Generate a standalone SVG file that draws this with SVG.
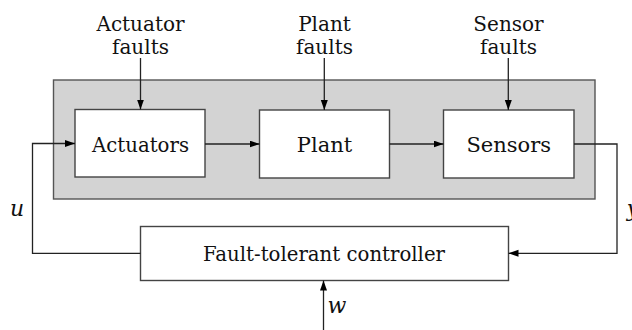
<svg xmlns="http://www.w3.org/2000/svg" width="632" height="330" viewBox="0 0 632 330">
<defs>
<marker id="ah" markerUnits="userSpaceOnUse" markerWidth="11" markerHeight="8" refX="10" refY="3.5" orient="auto">
<path d="M0,0 L10,3.5 L0,7 z" fill="#000"/>
</marker>
<style>
text{font-family:'DejaVu Serif','Liberation Serif',serif;font-size:21px;fill:#111;text-anchor:middle}
.lbl{font-size:20px}
.it{font-style:italic;font-size:22px}
.box{fill:#fff;stroke:#444;stroke-width:1.4}
.grp{fill:#d3d3d3;stroke:#555;stroke-width:1.4}
.arr{fill:none;stroke:#222;stroke-width:1.3;marker-end:url(#ah)}
</style>
</defs>
<rect id="system" class="grp" x="53.5" y="80" width="541.5" height="119"/>
<g id="actuators"><rect class="box" x="75" y="109.5" width="130" height="67.5"/><text x="140.5" y="152" textLength="97" lengthAdjust="spacingAndGlyphs">Actuators</text></g>
<g id="plant"><rect class="box" x="259.5" y="110" width="130" height="68"/><text x="324.5" y="152">Plant</text></g>
<g id="sensors"><rect class="box" x="443.5" y="110" width="130.5" height="68"/><text x="508.7" y="152">Sensors</text></g>
<g id="controller"><rect class="box" x="140.5" y="226.5" width="368" height="54"/><text x="324" y="261" textLength="242" lengthAdjust="spacingAndGlyphs">Fault-tolerant controller</text></g>
<g id="actuator-faults"><text class="lbl" x="140.5" y="30.5">Actuator</text><text class="lbl" x="140.5" y="53.5">faults</text></g>
<g id="plant-faults"><text class="lbl" x="324.5" y="30.5">Plant</text><text class="lbl" x="324.5" y="53.5">faults</text></g>
<g id="sensor-faults"><text class="lbl" x="508.5" y="30.5">Sensor</text><text class="lbl" x="508.5" y="53.5">faults</text></g>
<g id="connectors">
<line class="arr" x1="140.5" y1="58" x2="140.5" y2="109.5"/>
<line class="arr" x1="324.3" y1="58" x2="324.3" y2="110"/>
<line class="arr" x1="508.3" y1="58" x2="508.3" y2="110"/>
<line class="arr" x1="205" y1="144" x2="259.5" y2="144"/>
<line class="arr" x1="389.5" y1="144" x2="443.5" y2="144"/>
<polyline class="arr" points="574,144 617,144 617,253.3 508.5,253.3"/>
<polyline class="arr" points="140.5,253.3 32.5,253.3 32.5,143.5 75,143.5"/>
<line class="arr" x1="323.5" y1="330" x2="323.5" y2="280.5"/>
</g>
<text class="it" x="17" y="216">u</text>
<text class="it" x="337" y="313">w</text>
<text class="it" x="633" y="216">y</text>
</svg>
